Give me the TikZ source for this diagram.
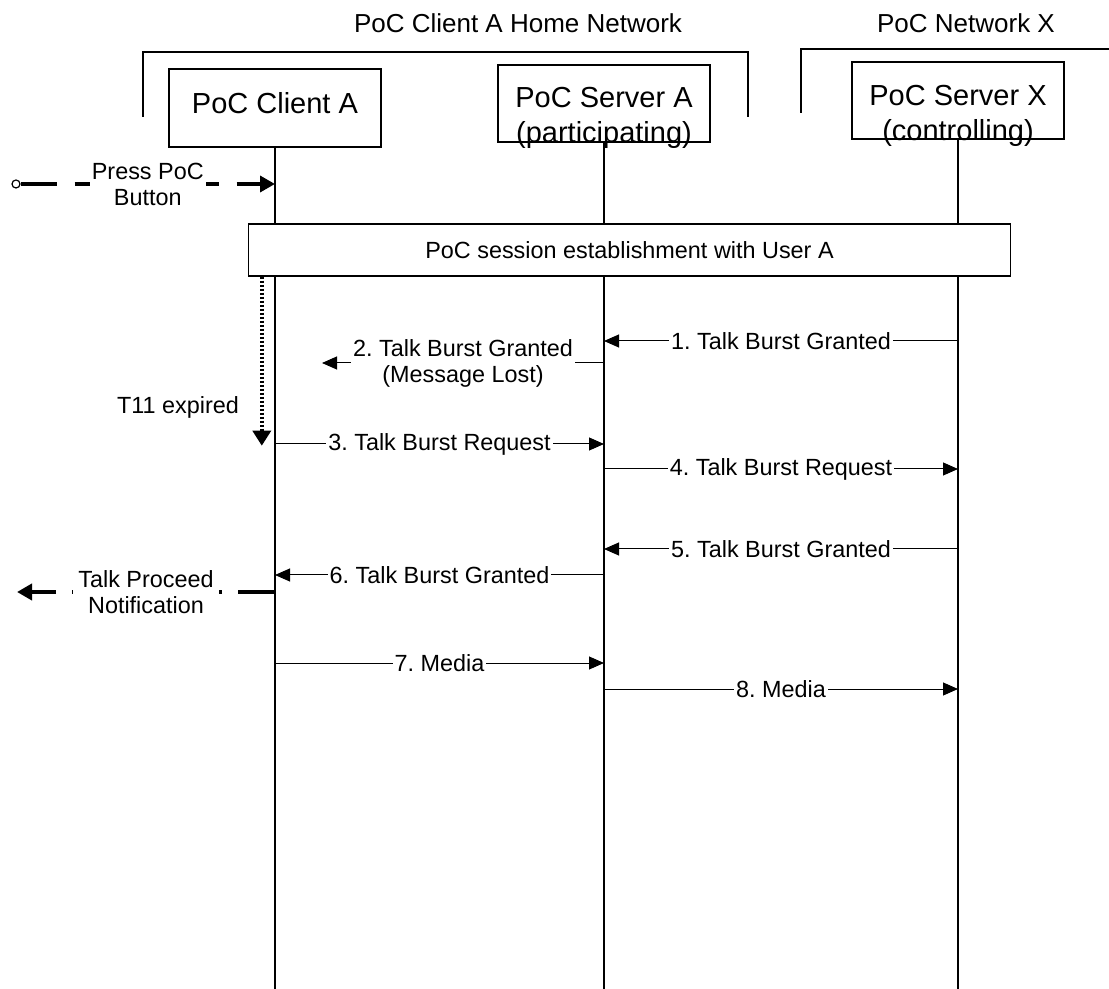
\documentclass[tikz,border=0pt]{standalone}
\usepackage{fontspec}
\setmainfont{Liberation Sans}
\usetikzlibrary{arrows.meta}
\frenchspacing

\tikzset{
    entity/.style={draw, line width=1pt, minimum width=106pt, minimum height=38.75pt},
    entitytext/.style={align=center, font=\fontsize{14.5}{17.5}\selectfont},
    lifeline/.style={line width=1.3pt},
    msg/.style={line width=0.5pt},
    lbl/.style={fill=white, inner sep=1pt, align=center,
        font=\fontsize{11.7}{13}\selectfont},
    userarrow/.style={line width=1.75pt,
        -{Triangle[length=7.5pt, width=8pt]}},
}

\begin{document}
\begin{tikzpicture}[>={Triangle[length=7.5pt, width=6.5pt]}, x=0.5pt, y=-0.5pt]

    \useasboundingbox (0,0) rectangle (1109,989);

    % network domains
    \node[font=\fontsize{13}{15}\selectfont] (HomeTitle) at (518,23)
        {PoC Client A Home Network};
    \node[font=\fontsize{13}{15}\selectfont] (NetXTitle) at (966,23)
        {PoC Network X};
    \draw[line width=1pt] (143,117) -- (143,52) -- (748,52) -- (748,117);
    \draw[line width=1pt] (801,113) -- (801,49) -- (1109,49);

    % entities
    \node[entity] (Client) at (275,108) {};
    \node[entitytext] (ClientTxt) at ([yshift=2.5pt]Client.center)
        {PoC Client A};
    \node[entity] (SrvA) at (604,103.5) {};
    \node[entitytext] (SrvATxt) at ([yshift=-7pt]SrvA.center)
        {PoC Server A\\(participating)};
    \node[entity] (SrvX) at (958,100.5) {};
    \node[entitytext] (SrvXTxt) at ([yshift=-7.5pt]SrvX.center)
        {PoC Server X\\(controlling)};

    % lifelines
    \draw[lifeline] (Client.south) -- (Client.south |- 0,989);
    \draw[lifeline] (SrvA.south) -- (SrvA.south |- 0,989);
    \draw[lifeline] (SrvX.south) -- (SrvX.south |- 0,989);

    % user action
    \node[circle, draw, fill=white, line width=0.6pt, inner sep=0pt,
        minimum size=4pt] (Btn) at (16,184) {};
    \draw[userarrow, dash pattern=on 18pt off 9pt] (Btn.east)
        -- node[lbl] {Press PoC\\Button} (Btn -| Client);

    \node[draw, fill=white, line width=0.7pt, minimum width=381pt,
        minimum height=26pt, font=\fontsize{11.7}{13}\selectfont]
        (Session) at (629.5,250) {PoC session establishment with User A};

    % timer
    \draw[line width=1.7pt, dash pattern=on 1.2pt off 0.8pt,
        -{Triangle[length=7.5pt, width=9pt]}]
        ([xshift=7pt]Session.south west) -- ++(0,169);
    \node[font=\fontsize{11.7}{13}\selectfont] (T11) at (178,407) {T11 expired};

    % floor control
    \draw[msg, ->] (SrvX |- 0,341)
        -- node[lbl] {1. Talk Burst Granted} (SrvA |- 0,341);
    \coordinate (Lost) at (322,363);
    \draw[msg, ->] (SrvA |- Lost)
        -- node[lbl] {2. Talk Burst Granted\\(Message Lost)} (Lost);
    \draw[msg, ->] (Client |- 0,444)
        -- node[lbl] {3. Talk Burst Request} (SrvA |- 0,444);
    \draw[msg, ->] (SrvA |- 0,469)
        -- node[lbl] {4. Talk Burst Request} (SrvX |- 0,469);
    \draw[msg, ->] (SrvX |- 0,549)
        -- node[lbl] {5. Talk Burst Granted} (SrvA |- 0,549);
    \draw[msg, ->] (SrvA |- 0,575)
        -- node[lbl] {6. Talk Burst Granted} (Client |- 0,575);

    \coordinate (Notify) at (17,592);
    \draw[userarrow, line width=2pt,
        dash pattern=on 18.5pt off 8pt on 2pt off 8pt]
        (Client |- Notify) -- node[lbl, inner xsep=2.5pt]
        {Talk Proceed\\Notification} (Notify);

    % media
    \draw[msg, ->] (Client |- 0,663)
        -- node[lbl] {7. Media} (SrvA |- 0,663);
    \draw[msg, ->] (SrvA |- 0,689)
        -- node[lbl] {8. Media} (SrvX |- 0,689);

\end{tikzpicture}
\end{document}
